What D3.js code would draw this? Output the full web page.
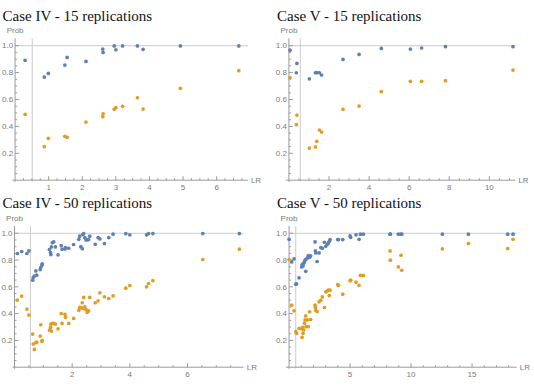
<!DOCTYPE html>
<html><head><meta charset="utf-8">
<script src="https://cdn.jsdelivr.net/npm/d3@7"></script>
<style>html,body{margin:0;padding:0;background:#fff;}svg{display:block;}</style>
</head><body>
<svg id="c" width="534" height="387"></svg>
<script>
// ---------- DATA ----------
const titles = ["Case IV - 15 replications","Case V - 15 replications","Case IV - 50 replications","Case V - 50 replications"];
const yTicks = [0.2,0.4,0.6,0.8,1.0];
const xTicks1 = [1,2,3,4,5,6];
const xTicks2 = [2,4,6,8,10];
const xTicks3 = [2,4,6];
const xTicks4 = [5,10,15];
const thresholds = [0.51,0.57,0.55,0.55];

// Case IV - 15
const lr1   = [0.30,0.87,0.99,1.48,1.55,2.11,2.61,2.62,2.95,3.00,3.20,3.64,3.81,4.92,6.66];
const blue1 = [0.891,0.767,0.794,0.856,0.913,0.883,0.975,0.950,0.998,0.970,0.998,0.998,0.973,0.998,0.998];
const orng1 = [0.489,0.249,0.311,0.326,0.319,0.432,0.472,0.494,0.527,0.539,0.549,0.613,0.529,0.683,0.814];

// Case V - 15
const lr2   = [0.055,0.40,0.37,1.02,1.32,1.39,1.52,1.63,2.70,3.50,4.61,6.06,6.62,7.81,11.18];
const blue2 = [0.967,0.868,0.799,0.754,0.799,0.800,0.799,0.782,0.898,0.935,0.980,0.975,0.983,0.993,0.993];
const orng2 = [0.762,0.484,0.413,0.239,0.247,0.289,0.373,0.358,0.527,0.551,0.658,0.735,0.735,0.740,0.819];

// Case IV - 50
const lr3   = [0.10,0.25,0.43,0.50,0.63,0.65,0.69,0.74,0.77,0.89,0.91,0.95,0.96,1.21,1.25,1.26,1.28,1.31,1.36,1.42,1.51,1.62,1.65,1.75,1.77,1.88,2.05,2.23,2.26,2.30,2.35,2.37,2.40,2.44,2.48,2.52,2.57,2.61,2.80,2.90,2.96,3.12,3.27,3.42,3.86,4.00,4.58,4.65,4.80,6.53,7.80];
const blue3 = [0.849,0.864,0.849,0.868,0.650,0.670,0.680,0.719,0.687,0.729,0.744,0.762,0.772,0.878,0.856,0.841,0.898,0.930,0.935,0.898,0.839,0.908,0.881,0.883,0.893,0.888,0.916,0.955,0.978,0.900,0.885,0.990,0.998,0.968,0.950,0.953,0.953,0.978,0.918,0.968,0.958,0.923,0.968,0.993,0.998,0.988,0.988,0.998,0.998,0.998,0.998];
const orng3 = [0.501,0.531,0.434,0.389,0.247,0.173,0.133,0.183,0.187,0.232,0.317,0.193,0.200,0.277,0.297,0.322,0.270,0.327,0.327,0.322,0.287,0.401,0.327,0.394,0.372,0.327,0.364,0.426,0.446,0.445,0.481,0.439,0.521,0.450,0.430,0.410,0.420,0.521,0.481,0.496,0.555,0.526,0.513,0.533,0.590,0.610,0.600,0.625,0.647,0.804,0.881];

// Case V - 50
const lr4   = [0.00,0.22,0.41,0.55,0.62,0.82,1.04,1.07,1.12,1.15,1.20,1.26,1.31,1.37,1.40,1.50,1.58,1.69,1.77,2.13,2.16,2.19,2.30,2.46,2.60,2.73,2.90,3.01,3.14,3.22,3.30,3.36,3.99,4.05,4.40,5.00,5.05,5.49,5.74,5.85,6.09,8.28,8.30,8.96,9.18,9.24,12.57,14.70,17.92,18.36];
const blue4 = [0.955,0.786,0.809,0.620,0.622,0.667,0.749,0.764,0.769,0.757,0.776,0.786,0.799,0.716,0.806,0.816,0.834,0.820,0.832,0.935,0.868,0.853,0.789,0.853,0.893,0.888,0.933,0.903,0.918,0.928,0.940,0.953,0.953,0.953,0.953,0.980,0.970,0.988,0.955,0.993,0.993,0.993,0.993,0.993,0.993,0.993,0.993,0.993,0.993,0.993];
const orng4 = [0.804,0.463,0.421,0.265,0.253,0.290,0.285,0.223,0.298,0.253,0.278,0.328,0.353,0.383,0.303,0.353,0.303,0.414,0.356,0.463,0.445,0.426,0.415,0.488,0.500,0.525,0.445,0.563,0.570,0.575,0.535,0.575,0.617,0.610,0.545,0.645,0.650,0.635,0.612,0.685,0.685,0.868,0.799,0.749,0.836,0.724,0.883,0.923,0.886,0.955];

// ---------- LAYOUT ----------
const panels = [
  {lr:lr1,b:blue1,o:orng1,xt:xTicks1,minor:0.25,xd:[-0.08,6.93],xr:[12.4,247.9],yr:[181.8,38.3],tx:2.5,ty:20.5},
  {lr:lr2,b:blue2,o:orng2,xt:xTicks2,minor:0.5,xd:[-0.15,11.3],xr:[285.9,515.4],yr:[181.8,38.3],tx:277,ty:20.5},
  {lr:lr3,b:blue3,o:orng3,xt:xTicks3,minor:0.5,xd:[-0.07,7.95],xr:[12.5,243.7],yr:[368.8,225.9],tx:2.5,ty:208},
  {lr:lr4,b:blue4,o:orng4,xt:xTicks4,minor:1,xd:[-0.25,18.66],xr:[286,516.7],yr:[368.8,225.9],tx:277,ty:208}
];
const yd = [-0.012,1.055];
const BLUE = "#5e81b5", ORNG = "#e19c24";
const AX = "#9a9a9a", TXT = "#7a7a7a", GRID = "#cacaca";
const svg = d3.select("#c");

panels.forEach((p,i)=>{
  const x = d3.scaleLinear().domain(p.xd).range(p.xr);
  const y = d3.scaleLinear().domain(yd).range(p.yr);
  const g = svg.append("g");
  const x0 = x(0), y0 = y(0);

  g.append("text").attr("x",p.tx).attr("y",p.ty)
    .attr("font-family","'Liberation Serif','Times New Roman',serif")
    .attr("font-size",15).attr("fill","#111").text(titles[i]);

  g.append("line").attr("x1",x0).attr("x2",p.xr[1]).attr("y1",y(1)).attr("y2",y(1))
    .attr("stroke",GRID).attr("stroke-width",1);
  g.append("line").attr("x1",x(thresholds[i])).attr("x2",x(thresholds[i])).attr("y1",p.yr[0]).attr("y2",p.yr[1])
    .attr("stroke",GRID).attr("stroke-width",1);

  g.append("line").attr("x1",p.xr[0]).attr("x2",p.xr[1]).attr("y1",y0).attr("y2",y0).attr("stroke",AX);
  g.append("line").attr("x1",x0).attr("x2",x0).attr("y1",p.yr[0]).attr("y2",p.yr[1]).attr("stroke",AX);

  const xmaj = p.xt;
  const xmin = d3.range(0, p.xd[1], p.minor).filter(v=>v>0 && !xmaj.some(m=>Math.abs(m-v)<1e-6));
  g.selectAll(null).data(xmin).join("line")
    .attr("x1",d=>x(d)).attr("x2",d=>x(d)).attr("y1",y0).attr("y2",y0-2).attr("stroke",AX);
  g.selectAll(null).data(xmaj).join("line")
    .attr("x1",d=>x(d)).attr("x2",d=>x(d)).attr("y1",y0).attr("y2",y0-4).attr("stroke",AX);
  g.selectAll(null).data(xmaj).join("text")
    .attr("x",d=>x(d)).attr("y",y0+9.5).attr("text-anchor","middle")
    .attr("font-family","'Liberation Sans',Arial,sans-serif").attr("font-size",8).attr("fill",TXT)
    .text(d=>d);

  const ymin = d3.range(0.05,1.04,0.05).filter(v=>!yTicks.some(m=>Math.abs(m-v)<1e-6));
  g.selectAll(null).data(ymin).join("line")
    .attr("x1",x0).attr("x2",x0+2).attr("y1",d=>y(d)).attr("y2",d=>y(d)).attr("stroke",AX);
  g.selectAll(null).data(yTicks).join("line")
    .attr("x1",x0).attr("x2",x0+4).attr("y1",d=>y(d)).attr("y2",d=>y(d)).attr("stroke",AX);
  g.selectAll(null).data(yTicks).join("text")
    .attr("x",x0-2).attr("y",d=>y(d)+2.8).attr("text-anchor","end")
    .attr("font-family","'Liberation Sans',Arial,sans-serif").attr("font-size",8).attr("fill",TXT)
    .text(d=>d.toFixed(1));

  g.append("text").attr("x",x0).attr("y",p.yr[1]-5).attr("text-anchor","middle")
    .attr("font-family","'Liberation Sans',Arial,sans-serif").attr("font-size",8).attr("fill",TXT).text("Prob");
  g.append("text").attr("x",p.xr[1]+3).attr("y",y0+2.8)
    .attr("font-family","'Liberation Sans',Arial,sans-serif").attr("font-size",8).attr("fill",TXT).text("LR");

  const idx = d3.range(p.lr.length);
  g.selectAll(null).data(idx).join("circle")
    .attr("cx",k=>x(p.lr[k])).attr("cy",k=>y(p.b[k])).attr("r",1.85).attr("fill",BLUE);
  g.selectAll(null).data(idx).join("circle")
    .attr("cx",k=>x(p.lr[k])).attr("cy",k=>y(p.o[k])).attr("r",1.85).attr("fill",ORNG);
});
</script>
</body></html>
